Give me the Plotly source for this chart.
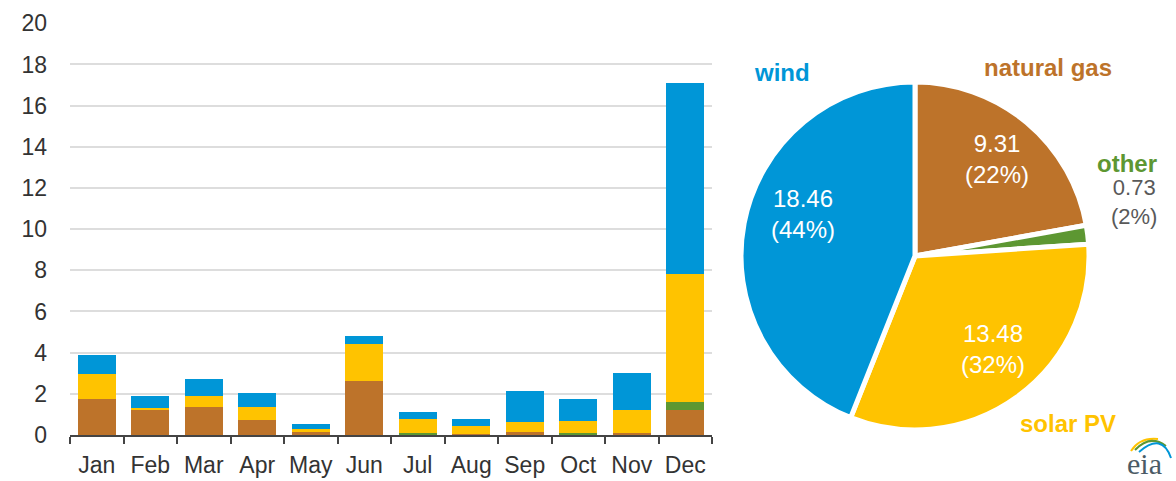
import plotly.graph_objects as go

WIND_COLOR = "#0096D7"
GAS_COLOR = "#BD732A"
SOLAR_COLOR = "#FFC300"
OTHER_COLOR = "#5D9732"
TEXT_COLOR = "#333333"

W, H = 1176, 481

months = ["Jan", "Feb", "Mar", "Apr", "May", "Jun", "Jul", "Aug", "Sep", "Oct", "Nov", "Dec"]
gas = [1.74, 1.22, 1.36, 0.71, 0.15, 2.63, 0.02, 0.05, 0.15, 0.03, 0.08, 1.23]
other = [0.0, 0.0, 0.0, 0.0, 0.0, 0.0, 0.08, 0.0, 0.02, 0.05, 0.0, 0.35]
solar = [1.21, 0.09, 0.54, 0.65, 0.15, 1.77, 0.67, 0.37, 0.45, 0.61, 1.15, 6.26]
wind = [0.94, 0.59, 0.83, 0.70, 0.25, 0.42, 0.34, 0.38, 1.53, 1.06, 1.80, 9.28]

pie_labels = ["natural gas", "other", "solar PV", "wind"]
pie_values = [9.31, 0.73, 13.48, 18.46]
pie_colors = [GAS_COLOR, OTHER_COLOR, SOLAR_COLOR, WIND_COLOR]


def px(x):
    return x / W


def py(y):
    return 1 - y / H


fig = go.Figure()
for name, vals, color in [
    ("natural gas", gas, GAS_COLOR),
    ("other", other, OTHER_COLOR),
    ("solar PV", solar, SOLAR_COLOR),
    ("wind", wind, WIND_COLOR),
]:
    fig.add_trace(go.Bar(x=months, y=vals, name=name, marker_color=color, marker_line_width=0))

fig.add_trace(
    go.Pie(
        labels=pie_labels,
        values=pie_values,
        sort=False,
        direction="clockwise",
        rotation=0,
        marker={"colors": pie_colors, "line": {"color": "white", "width": 5}},
        textinfo="none",
        domain={"x": [px(741), px(1089)], "y": [py(430), py(82)]},
        hoverinfo="label+value+percent",
    )
)

total = sum(pie_values)
inside = {
    "wind": (803, 214),
    "natural gas": (997, 159),
    "solar PV": (993, 349),
}
outside = {
    "wind": (782, 73),
    "natural gas": (1048, 67),
    "other": (1127, 163),
    "solar PV": (1068, 423),
}
annotations = []
for lab, val, col in zip(pie_labels, pie_values, pie_colors):
    pct = round(val / total * 100)
    ox, oy = outside[lab]
    annotations.append(
        dict(xref="paper", yref="paper", x=px(ox), y=py(oy), text=f"<b>{lab}</b>",
             font={"size": 24, "color": col}, showarrow=False, xanchor="center", yanchor="middle")
    )
    if lab in inside:
        ix, iy = inside[lab]
        annotations.append(
            dict(xref="paper", yref="paper", x=px(ix), y=py(iy), text=f"{val:.2f}<br>({pct}%)",
                 font={"size": 24, "color": "white"}, showarrow=False, xanchor="center", yanchor="middle")
        )
    else:
        annotations.append(
            dict(xref="paper", yref="paper", x=px(1134), y=py(202), text=f"{val:.2f}<br>({pct}%)",
                 font={"size": 22, "color": "#595959"}, showarrow=False, xanchor="center", yanchor="middle")
        )

# eia logo
annotations.append(
    dict(xref="paper", yref="paper", x=px(1144), y=py(463), text="eia",
         font={"size": 30, "color": "#4B5B66", "family": "Liberation Serif"},
         showarrow=False, xanchor="center", yanchor="middle", borderpad=0)
)
arcs = [
    ("#FFC300", (1131, 451), (1140, 437), (1158, 439)),
    ("#5D9732", (1135, 450), (1150, 434), (1166, 446)),
    ("#0096D7", (1139, 452), (1162, 432), (1171, 458)),
]
shapes = []
for c, p0, pc, p1 in arcs:
    shapes.append(
        dict(type="path", xref="paper", yref="paper",
             path=f"M {px(p0[0])},{py(p0[1])} Q {px(pc[0])},{py(pc[1])} {px(p1[0])},{py(p1[1])}",
             line={"color": c, "width": 2})
    )

fig.update_layout(
    width=W,
    height=H,
    barmode="stack",
    bargap=0.29,
    showlegend=False,
    template="none",
    paper_bgcolor="white",
    plot_bgcolor="white",
    margin=dict(l=0, r=0, t=0, b=0),
    font={"family": "Liberation Sans, Arial, sans-serif", "size": 23, "color": TEXT_COLOR},
    xaxis={
        "domain": [px(70), px(712)],
        "showgrid": False,
        "showline": True,
        "linecolor": "#444444",
        "linewidth": 2,
        "ticks": "outside",
        "tickson": "boundaries",
        "ticklen": 7,
        "tickwidth": 2,
        "tickcolor": "#444444",
        "tickangle": 0,
        "ticklabelstandoff": 8,
        "automargin": False,
    },
    yaxis={
        "domain": [py(435), py(23.3)],
        "range": [0, 20],
        "dtick": 2,
        "showgrid": True,
        "gridcolor": "#DDDDDD",
        "gridwidth": 2,
        "zeroline": False,
        "showline": False,
        "ticks": "",
        "ticklabelstandoff": 22,
        "automargin": False,
    },
    annotations=annotations,
    shapes=shapes,
)

fig.write_html("out.html", config={"displayModeBar": False}, post_script="document.body.style.margin='0';")
